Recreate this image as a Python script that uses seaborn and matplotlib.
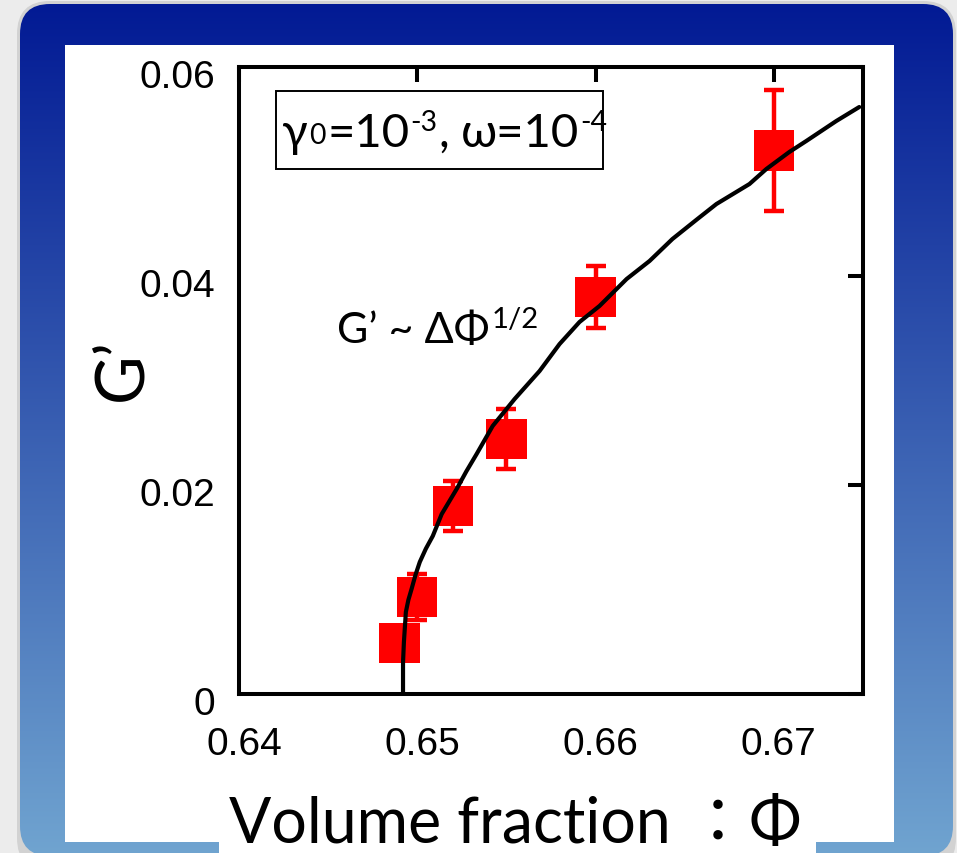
import matplotlib
matplotlib.use("Agg")
import numpy as np
import pandas as pd
import matplotlib.pyplot as plt
import seaborn as sns
from matplotlib.patches import FancyBboxPatch, Rectangle
import matplotlib.transforms as mtransforms

# Measured storage modulus vs. volume fraction
phi = [0.649, 0.650, 0.652, 0.655, 0.660, 0.670]
g_mod = [0.0049, 0.0093, 0.0180, 0.0244, 0.0380, 0.0520]
g_err = [0.0015, 0.0022, 0.0024, 0.0029, 0.0030, 0.0058]

# Square-root law curve G' ~ (phi - phi_c)^(1/2)
fit_phi = [0.6492, 0.6492, 0.64925, 0.64936, 0.64950, 0.64968, 0.64990, 0.65014,
           0.65048, 0.65087, 0.65137, 0.65180, 0.65221, 0.65275, 0.65333, 0.65423,
           0.65546, 0.65686, 0.65798, 0.65910, 0.66022, 0.66174, 0.66303, 0.66431,
           0.66571, 0.66678, 0.66863, 0.66958, 0.67087, 0.67182, 0.67350, 0.67479]
fit_g = [0.0000, 0.00300, 0.00498, 0.00785, 0.00900, 0.01005, 0.01140, 0.01263,
         0.01390, 0.01512, 0.01722, 0.01845, 0.01962, 0.02130, 0.02297, 0.02565,
         0.02823, 0.03091, 0.03349, 0.03560, 0.03713, 0.03971, 0.04144, 0.04354,
         0.04545, 0.04689, 0.04880, 0.05024, 0.05187, 0.05292, 0.05483, 0.05617]

x_ticks = [0.64, 0.65, 0.66, 0.67]
x_ticklabels = ["0.64", "0.65", "0.66", "0.67"]
y_ticks = [0.0, 0.02, 0.04, 0.06]
y_ticklabels = ["0", "0.02", "0.04", "0.06"]

W, H = 957, 854
sns.set_theme(style="white")
humanist = ["Lato", "DejaVu Sans"]
plt.rcParams["font.family"] = ["Liberation Sans", "DejaVu Sans"]

fig = plt.figure(figsize=(W / 100, H / 100), dpi=100)
fig.patch.set_facecolor("#ececec")

# ---- slide frame: blue gradient rounded panel with a white card ----
bg = fig.add_axes([0, 0, 1, 1], zorder=-10)
bg.set_xlim(0, W)
bg.set_ylim(H, 0)
bg.axis("off")

shadow = FancyBboxPatch((17, 2), 939, 870, boxstyle="round,pad=0,rounding_size=33",
                        facecolor="#d2d2d2", edgecolor="none", zorder=0)
bg.add_patch(shadow)
frame = FancyBboxPatch((20, 5), 933, 852, boxstyle="round,pad=0,rounding_size=30",
                       facecolor="none", edgecolor="none", zorder=2)
bg.add_patch(frame)
top_c = np.array([2, 26, 148]) / 255
bot_c = np.array([112, 164, 208]) / 255
t = np.linspace(0, 1, 256)[:, None, None]
grad = top_c * (1 - t) + bot_c * t
grad = np.repeat(grad, 2, axis=1)
im = bg.imshow(grad, extent=[20, 953, 857, 5], aspect="auto",
               interpolation="bilinear", zorder=1)
im.set_clip_path(frame)

bg.add_patch(Rectangle((65, 46), 829, 797, facecolor="white", edgecolor="none", zorder=3))
bg.add_patch(Rectangle((219, 843), 597, 20, facecolor="white", edgecolor="none", zorder=3))

# ---- main axes ----
ax = fig.add_axes([239 / W, 1 - 695 / H, (863 - 239) / W, (695 - 68) / H])
ax.set_facecolor("white")

df = pd.DataFrame({"phi": phi, "G": g_mod, "err": g_err})
fit_df = pd.DataFrame({"phi": fit_phi, "G": fit_g})

ax.errorbar(df["phi"], df["G"], yerr=df["err"], fmt="none", ecolor="#ff0000",
            elinewidth=3.2, capsize=7.5, capthick=3.2, zorder=2)
sns.scatterplot(data=df, x="phi", y="G", marker="s", s=29 ** 2, color="#ff0000",
                edgecolor="none", linewidth=0, ax=ax, zorder=3, legend=False)
sns.lineplot(data=fit_df, x="phi", y="G", sort=False, estimator=None, color="black",
             linewidth=3.0, ax=ax, zorder=4)

ax.set_xlim(0.64, 0.675)
ax.set_ylim(0.0, 0.06)
ax.set_xticks(x_ticks)
ax.set_xticklabels(x_ticklabels)
ax.set_yticks(y_ticks)
ax.set_yticklabels(y_ticklabels)
ax.set_xlabel("")
ax.set_ylabel("")
for sp in ax.spines.values():
    sp.set_visible(True)
    sp.set_color("black")
    sp.set_linewidth(2.9)
ax.tick_params(axis="both", direction="in", length=11, width=2.9, color="black",
               top=True, right=True, labelsize=28, labelcolor="black")
ax.tick_params(axis="x", pad=23)
ax.tick_params(axis="y", pad=17)
for lab in ax.get_yticklabels():
    lab.set_transform(lab.get_transform() +
                      mtransforms.ScaledTranslation(0, -0.06, fig.dpi_scale_trans))
for lab in ax.get_xticklabels():
    lab.set_transform(lab.get_transform() +
                      mtransforms.ScaledTranslation(0.05, 0, fig.dpi_scale_trans))

# ---- axis titles ----
fig.text(229 / W, 1 - 843 / H, "Volume fraction \uff1a\u03a6", fontsize=45,
         family=["Lato", "Noto Sans CJK JP", "DejaVu Sans"], ha="left", va="baseline",
         color="black")
fig.text(122 / W, 1 - 370 / H, "G\u2019", fontsize=48, family=humanist,
         rotation=90, ha="center", va="center", color="black")

# ---- inline annotations made of text runs (for sub/superscripts) ----
renderer = fig.canvas.get_renderer()


def text_runs(x_px, y_px, runs, size):
    x = x_px
    for s, scale, rise, gap in runs:
        x += gap
        tx = fig.text(x / W, 1 - (y_px - rise) / H, s, fontsize=size * scale,
                      family=humanist, ha="left", va="baseline", color="black",
                      zorder=6)
        x += tx.get_window_extent(renderer).width
    return x


fig.add_artist(Rectangle((276, 92), 327, 78, facecolor="white", edgecolor="black",
                         linewidth=1.4, transform=bg.transData, zorder=5))
text_runs(282, 147, [("\u03b3", 1.0, 0, 0), ("0", 0.6, 3, 1), ("=10", 1.0, 0, 2),
                     ("-3", 0.6, 16, 1), (",", 1.0, 0, 1), ("\u03c9=10", 1.0, 0, 12),
                     ("-4", 0.6, 16, 1)], 34)

text_runs(337, 343, [("G\u2019 ~ \u0394\u03a6", 1.0, 0, 0), ("1/2", 0.68, 15, 2)], 31)

fig.savefig("out.png", dpi=100, facecolor=fig.get_facecolor())
